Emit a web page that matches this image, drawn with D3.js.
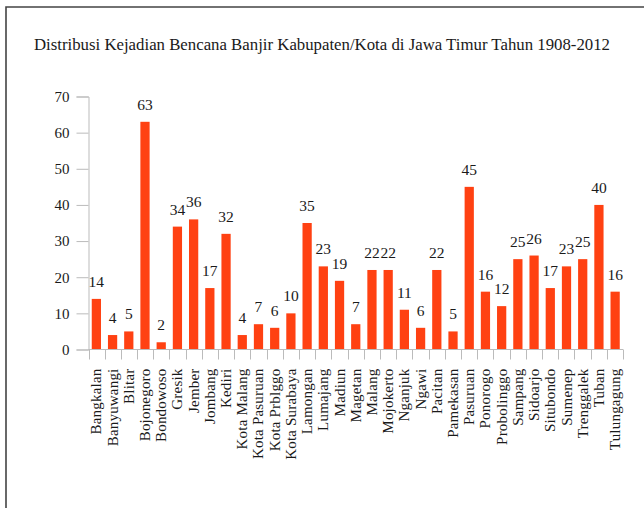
<!DOCTYPE html>
<html>
<head>
<meta charset="utf-8">
<script src="https://cdn.jsdelivr.net/npm/d3@7"></script>
<style>
  body { margin: 0; background: #fff; }
  text { font-family: "Liberation Serif", "Times New Roman", serif; fill: #1a1a1a; }
</style>
</head>
<body>
<script>
var width = 644;
var height = 508;

var categories = ["Bangkalan", "Banyuwangi", "Blitar", "Bojonegoro", "Bondowoso", "Gresik", "Jember",
  "Jombang", "Kediri", "Kota Malang", "Kota Pasuruan", "Kota Prblggo", "Kota Surabaya", "Lamongan",
  "Lumajang", "Madiun", "Magetan", "Malang", "Mojokerto", "Nganjuk", "Ngawi", "Pacitan", "Pamekasan",
  "Pasuruan", "Ponorogo", "Probolinggo", "Sampang", "Sidoarjo", "Situbondo", "Sumenep", "Trenggalek",
  "Tuban", "Tulungagung"];
var values = [14, 4, 5, 63, 2, 34, 36, 17, 32, 4, 7, 6, 10, 35, 23, 19, 7, 22, 22, 11, 6, 22, 5,
  45, 16, 12, 25, 26, 17, 23, 25, 40, 16];
var yTicks = [0, 10, 20, 30, 40, 50, 60, 70];
var title = "Distribusi Kejadian Bencana Banjir Kabupaten/Kota di Jawa Timur Tahun 1908-2012";

var svg = d3.select("body").append("svg")
  .attr("width", width)
  .attr("height", height);

// frame (top and left edges only)
svg.append("path")
  .attr("d", "M6,508V7H644")
  .attr("fill", "none")
  .attr("stroke", "#444")
  .attr("stroke-width", 1.6);

svg.append("text")
  .attr("x", 322)
  .attr("y", 50)
  .attr("text-anchor", "middle")
  .style("font-size", "16.8px")
  .text(title);

var x0 = 88.5, x1 = 623;

var x = d3.scaleBand()
  .domain(categories)
  .range([x0, x1])
  .paddingInner(0.43)
  .paddingOuter(0.2);

var y = d3.scaleLinear()
  .domain([0, 70])
  .range([349.5, 96.5]);

// y axis
var yAxis = svg.append("g")
  .attr("transform", "translate(" + x0 + ",0)")
  .call(d3.axisLeft(y).tickValues(yTicks).tickSize(12).tickPadding(7));
yAxis.selectAll("line, path").attr("stroke", "#bbb");
yAxis.selectAll("text").style("font-size", "15px").attr("fill", "#1a1a1a");

// bars
svg.selectAll(".bar")
  .data(values)
  .enter().append("rect")
  .attr("class", "bar")
  .attr("x", function (d, i) { return x(categories[i]); })
  .attr("width", x.bandwidth())
  .attr("y", function (d) { return y(d); })
  .attr("height", function (d) { return y(0) - y(d); })
  .attr("fill", "#ff4112");

// x axis, ticks between the categories
var xg = svg.append("g");
xg.append("line")
  .attr("x1", x0).attr("x2", x1)
  .attr("y1", y(0)).attr("y2", y(0))
  .attr("stroke", "#bbb");
var edges = d3.range(categories.length + 1).map(function (i) { return x0 + i * (x1 - x0) / categories.length; });
xg.selectAll(".tk")
  .data(edges)
  .enter().append("line")
  .attr("x1", function (d) { return Math.round(d) + 0.5; })
  .attr("x2", function (d) { return Math.round(d) + 0.5; })
  .attr("y1", y(0))
  .attr("y2", y(0) + 10)
  .attr("stroke", "#bbb");

xg.selectAll(".lbl")
  .data(categories)
  .enter().append("text")
  .attr("transform", function (d) {
    return "translate(" + (x(d) + x.bandwidth() / 2 + 5) + "," + (y(0) + 19) + ") rotate(-90)";
  })
  .attr("text-anchor", "end")
  .style("font-size", "15px")
  .style("letter-spacing", "0.2px")
  .text(function (d) { return d; });

// value labels
svg.selectAll(".val")
  .data(values)
  .enter().append("text")
  .attr("x", function (d, i) { return x(categories[i]) + x.bandwidth() / 2; })
  .attr("y", function (d) { return y(d) - 12; })
  .attr("text-anchor", "middle")
  .style("font-size", "15.5px")
  .text(function (d) { return d; });
</script>
</body>
</html>
